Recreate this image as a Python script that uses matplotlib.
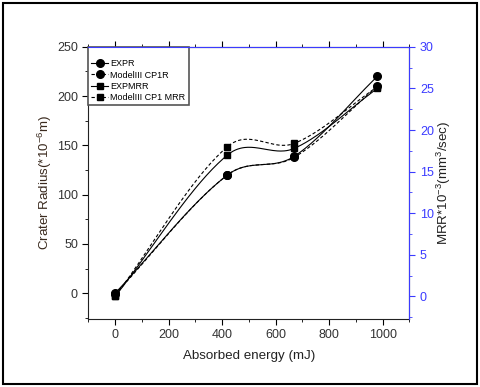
#!/usr/bin/python3
# -*- coding: utf-8 -*-
from matplotlib import pyplot as plt
from matplotlib.patches import Rectangle
from matplotlib.ticker import MultipleLocator
import numpy

plt.rcParams['font.family'] = ['Liberation Sans', 'DejaVu Sans']
plt.rcParams['mathtext.fontset'] = 'custom'
plt.rcParams['mathtext.rm'] = 'Liberation Sans'
plt.rcParams['mathtext.it'] = 'Liberation Sans:italic'

## data
energy = [0, 420, 670, 980]
expr_r = [0, 120, 139, 220]
model_r = [-1, 120, 138, 210]
exp_mrr = [0, 17, 17.8, 25]
model_mrr = [0, 18, 18.4, 25.2]

BLUE = '#3b3bff'
DASH = (0, (3, 2))


def smooth(x, y, n=60):
	## cubic Hermite line with Catmull-Rom slopes, only for the connecting line
	x = numpy.asarray(x, float)
	y = numpy.asarray(y, float)
	k = len(x)
	m = numpy.empty(k)
	m[0] = (y[1] - y[0]) / (x[1] - x[0])
	m[-1] = (y[-1] - y[-2]) / (x[-1] - x[-2])
	for i in range(1, k - 1):
		m[i] = (y[i + 1] - y[i - 1]) / (x[i + 1] - x[i - 1])
	xs, ys = [], []
	for i in range(k - 1):
		H = x[i + 1] - x[i]
		s = numpy.linspace(0, 1, n)
		h00 = 2 * s ** 3 - 3 * s ** 2 + 1
		h10 = s ** 3 - 2 * s ** 2 + s
		h01 = -2 * s ** 3 + 3 * s ** 2
		h11 = s ** 3 - s ** 2
		xs.extend(x[i] + s * H)
		ys.extend(h00 * y[i] + h10 * H * m[i] + h01 * y[i + 1] + h11 * H * m[i + 1])
	return xs, ys


fig = plt.figure(figsize=(4.8, 3.87), dpi=100)
ax1 = fig.add_axes([0.184, 0.176, 0.669, 0.703])
ax2 = ax1.twinx()

## left axis: crater radius
xs, ys = smooth(energy, expr_r)
ax1.plot(xs, ys, 'k-', lw=0.8)
xs, ys = smooth(energy, model_r)
ax1.plot(xs, ys, color='k', ls=DASH, lw=0.8)
ax1.plot(energy, expr_r, 'ko', ms=5.5)
ax1.plot(energy, model_r, 'ko', ms=5.5)

## right axis: MRR
xs, ys = smooth(energy, exp_mrr)
ax2.plot(xs, ys, 'k-', lw=0.8)
xs, ys = smooth(energy, model_mrr)
ax2.plot(xs, ys, color='k', ls=DASH, lw=0.8)
ax2.plot(energy, exp_mrr, 'ks', ms=5)
ax2.plot(energy, model_mrr, 'ks', ms=5)

## legend proxies
h1, = ax1.plot([], [], 'k-', marker='o', ms=5.5, lw=0.8)
h2, = ax1.plot([], [], color='k', ls=DASH, marker='o', ms=5.5, lw=0.8)
h3, = ax1.plot([], [], 'k-', marker='s', ms=4.5, lw=0.8)
h4, = ax1.plot([], [], color='k', ls=DASH, marker='s', ms=4.5, lw=0.8)
l = ax1.legend([h1, h2, h3, h4], ['EXPR', 'ModelIII CP1R', 'EXPMRR', 'ModelIII CP1 MRR'],
	loc='upper left', fontsize=6.5, borderaxespad=0, handlelength=1.8, handletextpad=0.3,
	labelspacing=0.25, borderpad=0.35, fancybox=False, framealpha=1,
	title=' ', title_fontsize=5)
l.get_frame().set_edgecolor('#555555')
l.get_frame().set_linewidth(1.2)

ax1.set_xlim(-100, 1100)
ax1.set_ylim(-26, 250)
ax2.set_ylim(-2.7, 30)

ax1.xaxis.set_major_locator(MultipleLocator(200))
ax1.xaxis.set_minor_locator(MultipleLocator(100))
ax1.yaxis.set_major_locator(MultipleLocator(50))
ax1.yaxis.set_minor_locator(MultipleLocator(25))
ax2.yaxis.set_major_locator(MultipleLocator(5))
ax2.yaxis.set_minor_locator(MultipleLocator(2.5))

ax1.set_xlabel("Absorbed energy (mJ)", fontsize=9.6, color='#222222', labelpad=6)
ax1.set_ylabel("Crater Radius(*10$^{-6}$m)", fontsize=9.6, color='#3a2a1e', labelpad=2)
ax2.set_ylabel("MRR*10$^{-3}$(mm$^{3}$/sec)", fontsize=9.6, color='#222222', labelpad=1)

ax1.tick_params(axis='both', which='both', direction='out', labelsize=9, labelcolor='#333333')
ax1.tick_params(which='major', length=4)
ax1.tick_params(which='minor', length=2.5)
ax1.tick_params(axis='x', which='both', top=True, labeltop=False)
ax2.tick_params(axis='y', which='both', direction='out', colors=BLUE, labelsize=9)
ax2.tick_params(which='major', length=4)
ax2.tick_params(which='minor', length=2.5)

for s in ['left', 'bottom']:
	ax1.spines[s].set_color('#222222')
ax2.spines['right'].set_color(BLUE)
ax2.spines['top'].set_color(BLUE)
ax2.spines['left'].set_visible(False)
ax2.spines['bottom'].set_visible(False)

## outer frame round the whole picture
fig.patches.append(Rectangle((0.006, 0.008), 0.988, 0.984, transform=fig.transFigure,
	fill=False, edgecolor='k', lw=1.5))

plt.savefig('out.png', dpi=100)
